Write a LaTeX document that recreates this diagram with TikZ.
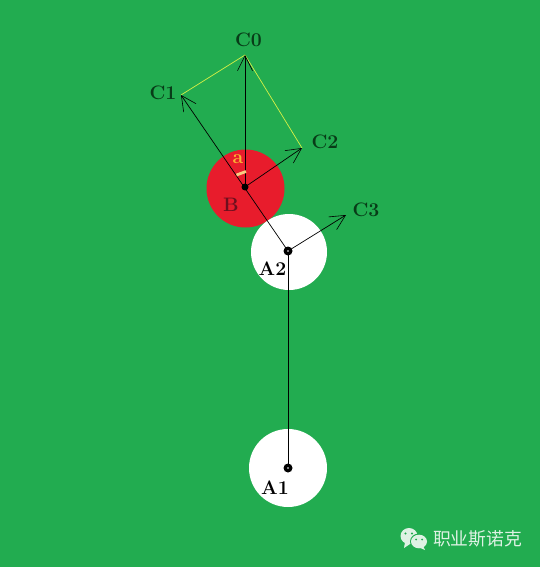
\documentclass[tikz,border=0pt]{standalone}
\usepackage{fontspec}
\newfontfamily\cjk{Noto Sans CJK SC}
\usetikzlibrary{arrows.meta}
\definecolor{bggreen}{RGB}{34,172,80}
\definecolor{ballred}{RGB}{232,28,44}
\definecolor{labgreen}{RGB}{8,60,24}
\definecolor{labred}{RGB}{110,16,30}
\definecolor{yline}{RGB}{214,240,70}
\definecolor{amark}{RGB}{250,180,50}
\definecolor{tickc}{RGB}{250,205,130}
\definecolor{wm}{RGB}{222,242,228}
\tikzset{
  ball/.style={circle,inner sep=0pt,minimum size=#1,draw=none},
  pivot/.style={circle,fill=black,inner sep=0pt,minimum size=9pt},
  pivothole/.style={circle,fill=white,inner sep=0pt,minimum size=1.6pt},
  lab/.style={font=\fontsize{19.5}{20}\selectfont\bfseries,inner sep=0pt},
  vec/.style={draw=black,line width=0.7pt,-{Straight Barb[length=15pt,width=15pt,line width=0.6pt]},shorten >=0pt},
  shaft/.style={draw=black,line width=1pt},
  guide/.style={draw=yline,line width=0.7pt},
  bubble/.style={fill=wm,draw=none}
}
\begin{document}
\begin{tikzpicture}[x=1pt,y=-1pt]
\fill[bggreen] (0,0) rectangle (540,567);
\useasboundingbox (0,0) rectangle (540,567);
% balls
\node[ball=78pt,fill=ballred] (B) at (245.5,188.5) {};
\node[ball=76pt,fill=white] (A2) at (289,252) {};
\node[ball=78pt,fill=white] (A1) at (288,468) {};
% endpoints
\coordinate (P0) at (245,187);
\coordinate (P2) at (288,251);
\coordinate (P1) at (288,468);
\coordinate (T0) at (245,55);
\coordinate (T1) at (181,95);
\coordinate (T2) at (302,148);
\coordinate (T3) at (346,215);
% guides
\draw[guide] (T0) -- (T1);
\draw[guide] (T0) -- (T2);
% vectors
\draw[shaft] (P1) -- (P2);
\draw[vec] (P2) -- (T1);
\draw[vec] (P2) -- (T3);
\draw[vec,line width=1pt] (P0) -- (T0);
\draw[vec] (P0) -- (T2);
% pivots
\node[pivot] (D2) at (P2) {};
\node[pivothole] (H2) at (P2) {};
\node[pivot] (D1) at (P1) {};
\node[pivothole] (H1) at (P1) {};
\node[pivot,minimum size=7pt] (D0) at (P0) {};
% labels
\node[lab,text=labgreen] (L0) at (248.5,39.5) {C0};
\node[lab,text=labgreen] (L1) at (163,92.5) {C1};
\node[lab,text=labgreen] (L2) at (325,141.5) {C2};
\node[lab,text=labgreen] (L3) at (366,209.5) {C3};
\node[lab,text=labred] (LB) at (231,204.5) {B};
\node[lab,text=black] (LA2) at (272.5,268.5) {A2};
\node[lab,text=black] (LA1) at (275,488) {A1};
\node[lab,text=amark] (La) at (238,159) {a};
\coordinate (K1) at (236.5,175);
\coordinate (K2) at (246,171.5);
\draw[tickc,line width=2.8pt] (K1) -- (K2);
% watermark
\fill[bubble] (409,536) ellipse (8.5pt and 8pt);
\fill[bubble] (405,542) -- (404,548) -- (410,544) -- cycle;
\fill[bggreen] (419,541.5) ellipse (9pt and 8pt);
\fill[bubble] (419,541.5) ellipse (8pt and 6.8pt);
\fill[bubble] (423,546) -- (425,550) -- (418,547) -- cycle;
\fill[bggreen] (405.5,533.5) circle (1.2pt) (412,533.5) circle (1.2pt) (416,539.5) circle (1pt) (422,539.5) circle (1pt);
\node[inner sep=0pt,text=wm,font=\cjk\fontsize{17.8}{18}\selectfont] (W) at (477.5,539) {职业斯诺克};
\end{tikzpicture}
\end{document}
